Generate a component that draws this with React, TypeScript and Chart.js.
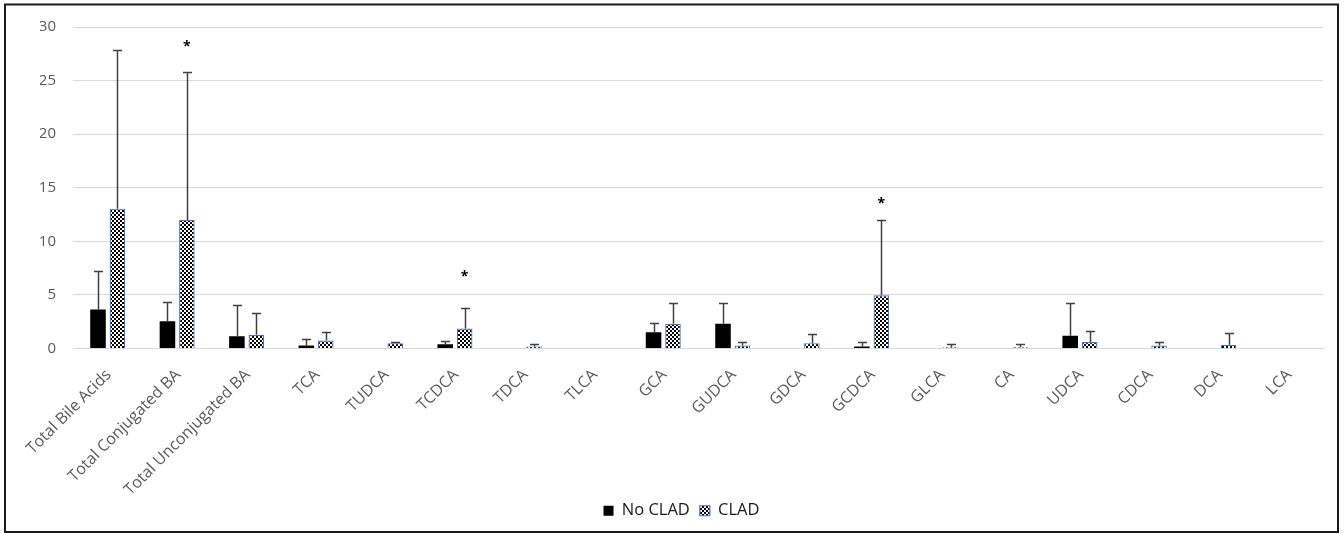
import React, { useEffect, useRef } from 'react';
import { Chart, registerables } from 'chart.js';

Chart.register(...registerables);

const categories = [
  'Total Bile Acids', 'Total Conjugated BA', 'Total Unconjugated BA', 'TCA', 'TUDCA', 'TCDCA',
  'TDCA', 'TLCA', 'GCA', 'GUDCA', 'GDCA', 'GCDCA', 'GLCA', 'CA', 'UDCA', 'CDCA', 'DCA', 'LCA',
];
const noCladMeans = [3.63, 2.55, 1.15, 0.28, 0, 0.4, 0, 0, 1.52, 2.3, 0, 0.18, 0, 0, 1.2, 0, 0, 0];
const noCladSD = [3.57, 1.75, 2.95, 0.56, 0, 0.32, 0, 0, 0.88, 1.9, 0, 0.42, 0, 0, 3.0, 0, 0, 0];
const cladMeans = [13.05, 12.0, 1.28, 0.75, 0.5, 1.86, 0.18, 0, 2.3, 0.28, 0.5, 4.97, 0.12, 0.12, 0.6, 0.28, 0.35, 0];
const cladSD = [14.85, 13.8, 2.02, 0.75, 0.12, 1.89, 0.27, 0, 1.9, 0.32, 0.87, 6.99, 0.28, 0.28, 1.0, 0.34, 1.05, 0];
const starValues: (number | null)[] = [null, 28.3, null, null, null, 6.83, null, null, null, null, null, 13.63, null, null, null, null, null, null];
const seriesNames = ['No CLAD', 'CLAD'];
const yMin = 0;
const yMax = 30;
const yStep = 5;

const FONT = '"Open Sans", "DejaVu Sans", sans-serif';

function makePattern(): CanvasPattern | string {
  const c = document.createElement('canvas');
  c.width = 4;
  c.height = 4;
  const g = c.getContext('2d');
  if (!g) return '#888';
  g.fillStyle = '#ffffff';
  g.fillRect(0, 0, 4, 4);
  g.fillStyle = '#000000';
  g.fillRect(0, 0, 2, 2);
  g.fillRect(2, 2, 2, 2);
  return g.createPattern(c, 'repeat') || '#888';
}

const errorBarPlugin = {
  id: 'errorBars',
  afterDatasetsDraw(chart: any) {
    const { ctx } = chart;
    const y = chart.scales.y;
    const errs = [noCladSD, cladSD];
    const means = [noCladMeans, cladMeans];
    ctx.save();
    ctx.strokeStyle = '#404040';
    ctx.lineWidth = 1.5;
    chart.data.datasets.forEach((_ds: any, di: number) => {
      const meta = chart.getDatasetMeta(di);
      meta.data.forEach((bar: any, i: number) => {
        const e = errs[di][i];
        if (!e) return;
        const x = Math.round(bar.x) + 0.5;
        const y0 = y.getPixelForValue(means[di][i]);
        const y1 = Math.round(y.getPixelForValue(means[di][i] + e)) + 0.5;
        ctx.beginPath();
        ctx.moveTo(x, y0);
        ctx.lineTo(x, y1);
        ctx.moveTo(x - 4.5, y1);
        ctx.lineTo(x + 4.5, y1);
        ctx.stroke();
      });
    });
    const meta1 = chart.getDatasetMeta(1);
    ctx.fillStyle = '#000';
    ctx.font = `bold 14px ${FONT}`;
    ctx.textAlign = 'center';
    ctx.textBaseline = 'middle';
    starValues.forEach((v, i) => {
      if (v == null) return;
      ctx.fillText('*', meta1.data[i].x, y.getPixelForValue(v) + 1.5);
    });
    ctx.restore();
  },
};

const framePlugin = {
  id: 'frame',
  afterDraw(chart: any) {
    const { ctx } = chart;
    ctx.save();
    ctx.strokeStyle = '#1a1a1a';
    ctx.lineWidth = 2;
    ctx.strokeRect(5, 4.5, 1333, 527.5);
    ctx.restore();
  },
};

export default function App() {
  const ref = useRef<HTMLCanvasElement | null>(null);
  useEffect(() => {
    if (!ref.current) return;
    const pattern = makePattern();
    const chart = new Chart(ref.current, {
      type: 'bar',
      data: {
        labels: categories,
        datasets: [
          {
            label: seriesNames[0],
            data: noCladMeans,
            backgroundColor: '#000000',
            borderColor: '#000000',
            borderWidth: 0,
          },
          {
            label: seriesNames[1],
            data: cladMeans,
            backgroundColor: pattern as any,
            borderColor: '#4472C4',
            borderWidth: 1.2,
          },
        ],
      },
      options: {
        responsive: false,
        animation: false,
        devicePixelRatio: 1,
        layout: { padding: { left: 40, right: 21, top: 27, bottom: 5 } },
        datasets: { bar: { categoryPercentage: 0.56, barPercentage: 0.8 } },
        plugins: {
          tooltip: { enabled: false },
          legend: {
            position: 'bottom',
            labels: {
              color: '#1a1a1a',
              font: { family: FONT, size: 16.5 },
              boxWidth: 10,
              boxHeight: 10,
              padding: 10,
            },
          },
        },
        scales: {
          x: {
            grid: { display: false },
            border: { color: '#d9d9d9' },
            ticks: {
              color: '#595959',
              font: { family: FONT, size: 16 },
              minRotation: 45,
              maxRotation: 45,
              autoSkip: false,
              padding: 9,
              labelOffset: 1,
            },
            afterFit: (s: any) => {
              s.height = 144;
            },
          },
          y: {
            min: yMin,
            max: yMax,
            grid: { color: '#d9d9d9', drawTicks: false },
            border: { display: false },
            ticks: {
              stepSize: yStep,
              color: '#595959',
              font: { family: FONT, size: 15 },
              padding: 17,
            },
            afterFit: (s: any) => {
              s.width = 33;
            },
          },
        },
      },
      plugins: [errorBarPlugin, framePlugin],
    });
    return () => chart.destroy();
  }, []);
  return (
    <div style={{ position: 'fixed', left: 0, top: 0, width: 1344, height: 534, background: '#fff' }}>
      <canvas ref={ref} width={1344} height={534} style={{ display: 'block' }} />
    </div>
  );
}
